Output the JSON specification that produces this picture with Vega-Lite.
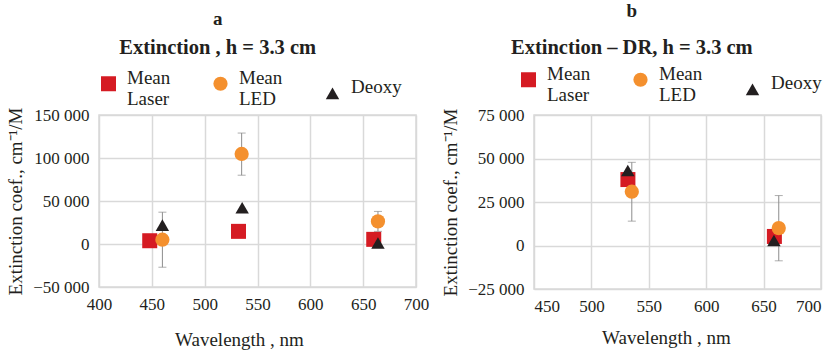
{
  "$schema": "https://vega.github.io/schema/vega-lite/v6.json",
  "background": "white",
  "padding": {"left": 5, "top": 0, "right": 6, "bottom": 2},
  "align": "none",
  "bounds": "full",
  "spacing": 10,
  "datasets": {
    "a": [
      {"series": "Mean Laser", "wl": 448, "val": 3800},
      {"series": "Mean Laser", "wl": 532, "val": 14700},
      {"series": "Mean Laser", "wl": 660, "val": 5400},
      {"series": "Mean LED", "wl": 460, "val": 5000, "lo": -27000, "hi": 37000},
      {"series": "Mean LED", "wl": 535, "val": 104700, "lo": 80000, "hi": 129000},
      {"series": "Mean LED", "wl": 664, "val": 26300, "lo": 14700, "hi": 37900},
      {"series": "Deoxy", "wl": 460, "val": 22000},
      {"series": "Deoxy", "wl": 535.5, "val": 42200},
      {"series": "Deoxy", "wl": 664, "val": 1100}
    ],
    "b": [
      {"series": "Mean Laser", "wl": 531.8, "val": 37900},
      {"series": "Mean Laser", "wl": 659.4, "val": 5200},
      {"series": "Mean LED", "wl": 535.2, "val": 30900, "lo": 14000, "hi": 47800},
      {"series": "Mean LED", "wl": 663.2, "val": 10000, "lo": -8800, "hi": 28700},
      {"series": "Deoxy", "wl": 531.7, "val": 43100},
      {"series": "Deoxy", "wl": 659, "val": 2900}
    ]
  },
  "config": {
    "font": "Liberation Serif",
    "view": {"stroke": "#d9d9d9", "strokeWidth": 1.5},
    "axis": {
      "labelFont": "Liberation Serif", "titleFont": "Liberation Serif",
      "labelFontSize": 17, "titleFontSize": 19, "titleFontWeight": "normal",
      "labelColor": "#231f20", "titleColor": "#231f20", "labelFlush": false,
      "gridColor": "#d9d9d9", "gridWidth": 1.5, "ticks": false, "domain": false
    },
    "legend": {
      "orient": "top", "direction": "horizontal", "title": null, "padding": 0,
      "labelFont": "Liberation Serif", "labelFontSize": 19, "labelColor": "#231f20",
      "labelBaseline": "alphabetic",
      "symbolSize": 110, "columnPadding": 40, "labelOffset": 9, "offset": 6,
      "labelLimit": 200
    },
    "title": {
      "font": "Liberation Serif", "fontSize": 19, "fontWeight": "bold", "color": "#231f20",
      "subtitleFont": "Liberation Serif", "subtitleFontSize": 20.5, "subtitleFontWeight": "bold",
      "subtitleColor": "#231f20", "anchor": "middle", "frame": "bounds"
    }
  },
  "hconcat": [
    {
      "width": 317, "height": 172,
      "title": {"text": "a", "subtitle": "\u00a0\u00a0\u00a0\u00a0\u00a0\u00a0\u00a0\u00a0\u00a0\u00a0\u00a0Extinction , h = 3.3 cm", "subtitlePadding": 9, "offset": 16},
      "data": {"name": "a"},
      "encoding": {
        "x": {"field": "wl", "type": "quantitative", "title": "Wavelength , nm",
              "scale": {"domain": [400, 700], "nice": false, "zero": false},
              "axis": {"values": [400, 450, 500, 550, 600, 650, 700], "labelPadding": 9, "titlePadding": 18, "titleX": 140}}
      },
      "layer": [
        {"mark": {"type": "rule", "color": "#8c8c8c", "strokeWidth": 1},
         "encoding": {
           "y": {"field": "lo", "type": "quantitative", "title": "Extinction coef., cm⁻¹/M",
                 "scale": {"domain": [-50000, 150000], "nice": false},
                 "axis": {"values": [-50000, 0, 50000, 100000, 150000], "labelExpr": "replace(format(datum.value, ','), ',', ' ')", "labelPadding": 10, "titlePadding": 7}},
           "y2": {"field": "hi"}}},
        {"mark": {"type": "tick", "orient": "horizontal", "color": "#8c8c8c", "size": 8, "thickness": 1},
         "encoding": {"y": {"field": "lo", "type": "quantitative", "title": "Extinction coef., cm⁻¹/M"}}},
        {"mark": {"type": "tick", "orient": "horizontal", "color": "#8c8c8c", "size": 8, "thickness": 1},
         "encoding": {"y": {"field": "hi", "type": "quantitative", "title": "Extinction coef., cm⁻¹/M"}}},
        {"mark": {"type": "point", "filled": true, "opacity": 1},
         "encoding": {
           "y": {"field": "val", "type": "quantitative", "title": "Extinction coef., cm⁻¹/M"},
           "color": {"field": "series", "type": "nominal", "title": null,
                     "scale": {"domain": ["Mean Laser", "Mean LED", "Deoxy"], "range": ["#d51b23", "#f4902e", "#231f20"]},
                     "legend": {"labelExpr": "datum.label == 'Deoxy' ? 'Deoxy' : split(datum.label, ' ')"}},
           "shape": {"field": "series", "type": "nominal", "title": null,
                     "scale": {"domain": ["Mean Laser", "Mean LED", "Deoxy"], "range": ["square", "circle", "triangle-up"]},
                     "legend": {"labelExpr": "datum.label == 'Deoxy' ? 'Deoxy' : split(datum.label, ' ')"}},
           "size": {"field": "series", "type": "nominal", "legend": null,
                    "scale": {"domain": ["Mean Laser", "Mean LED", "Deoxy"], "range": [225, 180, 260]}}
         }}
      ]
    },
    {
      "width": 287, "height": 174,
      "title": {"text": "b", "subtitle": "\u00a0\u00a0\u00a0\u00a0\u00a0\u00a0Extinction  –  DR, h = 3.3 cm", "subtitlePadding": 17, "offset": 12},
      "data": {"name": "b"},
      "encoding": {
        "x": {"field": "wl", "type": "quantitative", "title": "Wavelength , nm",
              "scale": {"domain": [450, 700], "nice": false, "zero": false},
              "axis": {"values": [450, 500, 550, 600, 650, 700], "labelFlush": true, "labelPadding": 9, "titlePadding": 14, "titleX": 132}}
      },
      "layer": [
        {"mark": {"type": "rule", "color": "#8c8c8c", "strokeWidth": 1},
         "encoding": {
           "y": {"field": "lo", "type": "quantitative", "title": "Extinction coef., cm⁻¹/M",
                 "scale": {"domain": [-25000, 75000], "nice": false},
                 "axis": {"values": [-25000, 0, 25000, 50000, 75000], "labelExpr": "replace(format(datum.value, ','), ',', ' ')", "labelPadding": 10, "titlePadding": 7}},
           "y2": {"field": "hi"}}},
        {"mark": {"type": "tick", "orient": "horizontal", "color": "#8c8c8c", "size": 8, "thickness": 1},
         "encoding": {"y": {"field": "lo", "type": "quantitative", "title": "Extinction coef., cm⁻¹/M"}}},
        {"mark": {"type": "tick", "orient": "horizontal", "color": "#8c8c8c", "size": 8, "thickness": 1},
         "encoding": {"y": {"field": "hi", "type": "quantitative", "title": "Extinction coef., cm⁻¹/M"}}},
        {"mark": {"type": "point", "filled": true, "opacity": 1},
         "encoding": {
           "y": {"field": "val", "type": "quantitative", "title": "Extinction coef., cm⁻¹/M"},
           "color": {"field": "series", "type": "nominal", "title": null,
                     "scale": {"domain": ["Mean Laser", "Mean LED", "Deoxy"], "range": ["#d51b23", "#f4902e", "#231f20"]},
                     "legend": {"orient": "none", "legendX": -15, "legendY": -45, "labelExpr": "datum.label == 'Deoxy' ? 'Deoxy' : split(datum.label, ' ')"}},
           "shape": {"field": "series", "type": "nominal", "title": null,
                     "scale": {"domain": ["Mean Laser", "Mean LED", "Deoxy"], "range": ["square", "circle", "triangle-up"]},
                     "legend": {"orient": "none", "legendX": -15, "legendY": -45, "labelExpr": "datum.label == 'Deoxy' ? 'Deoxy' : split(datum.label, ' ')"}},
           "size": {"field": "series", "type": "nominal", "legend": null,
                    "scale": {"domain": ["Mean Laser", "Mean LED", "Deoxy"], "range": [225, 180, 260]}}
         }}
      ]
    }
  ],
  "resolve": {
    "scale": {"x": "independent", "y": "independent", "color": "independent", "shape": "independent", "size": "independent"},
    "legend": {"color": "independent", "shape": "independent", "size": "independent"}
  }
}
